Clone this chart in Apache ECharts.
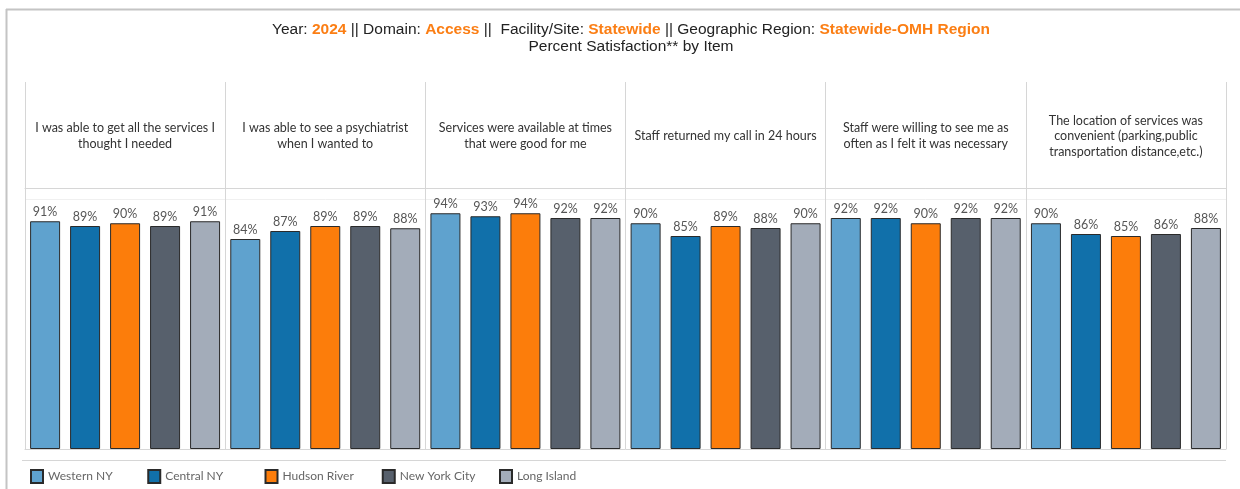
<!DOCTYPE html>
<html>
<head>
<meta charset="utf-8">
<script src="https://cdn.jsdelivr.net/npm/echarts@6/dist/echarts.min.js"></script>
<style>
html,body{margin:0;padding:0;background:#fff;}
#chart{width:1240px;height:489px;}
</style>
</head>
<body>
<div id="chart"></div>
<script>
var categories = [
  'I was able to get all the services I\nthought I needed',
  'I was able to see a psychiatrist\nwhen I wanted to',
  'Services were available at times\nthat were good for me',
  'Staff returned my call in 24 hours',
  'Staff were willing to see me as\noften as I felt it was necessary',
  'The location of services was\nconvenient (parking,public\ntransportation distance,etc.)'
];
var regions = ['Western NY', 'Central NY', 'Hudson River', 'New York City', 'Long Island'];
var westernNY    = [91.1, 84.0, 94.3, 90.3, 92.4, 90.3];
var centralNY    = [89.2, 87.2, 93.1, 85.2, 92.4, 86.0];
var hudsonRiver  = [90.3, 89.2, 94.3, 89.2, 90.3, 85.2];
var newYorkCity  = [89.2, 89.2, 92.4, 88.4, 92.4, 86.0];
var longIsland   = [91.1, 88.3, 92.4, 90.3, 92.4, 88.4];
var seriesValues = [westernNY, centralNY, hudsonRiver, newYorkCity, longIsland];
var colors = ['#5fa2ce', '#1170aa', '#fc7d0b', '#57606c', '#a3acb9'];

var chart = echarts.init(document.getElementById('chart'));
var uiFont = 'Lato';
var lineColor = '#d6d6d6';

var series = regions.map(function (name, i) {
  return {
    name: name,
    type: 'bar',
    xAxisIndex: 1,
    yAxisIndex: 1,
    data: seriesValues[i],
    barWidth: 30,
    barGap: '33.3%',
    itemStyle: { color: colors[i], borderColor: '#2a2a2a', borderWidth: 1 },
    label: {
      show: true,
      position: 'top',
      distance: 3,
      fontFamily: uiFont,
      fontSize: 12.5,
      color: '#555',
      formatter: function (p) { return Math.round(p.value) + '%'; }
    },
    emphasis: { disabled: true },
    animation: false
  };
});

// one legend block per region, laid out at a fixed pitch like the original
var legends = regions.map(function (name, i) {
  return {
    left: 30 + i * 117.25,
    top: 469,
    padding: 0,
    itemWidth: 12,
    itemHeight: 13,
    icon: 'rect',
    data: [name],
    selectedMode: false,
    textStyle: { fontFamily: uiFont, fontSize: 12, color: '#666' }
  };
});

var orange = '#fb7e14';
chart.setOption({
  animation: false,
  title: {
    left: 626,
    top: 15.5,
    textAlign: 'center',
    text: '{n|Year: }{o|2024}{n| || Domain: }{o|Access}{n| ||  Facility/Site: }{o|Statewide}{n| || Geographic Region: }{o|Statewide-OMH Region}',
    textStyle: {
      fontWeight: 'normal',
      fontFamily: 'Liberation Sans',
      fontSize: 15.5,
      rich: {
        n: { fontFamily: 'Liberation Sans', fontSize: 15.5, color: '#222', fontWeight: 'normal', lineHeight: 18 },
        o: { fontFamily: 'Liberation Sans', fontSize: 15.5, color: orange, fontWeight: 'bold', lineHeight: 18 }
      }
    },
    subtext: 'Percent Satisfaction** by Item',
    subtextStyle: { fontFamily: 'Liberation Sans', fontSize: 15.5, color: '#222', lineHeight: 18 },
    itemGap: 1
  },
  legend: legends,
  graphic: [
    { type: 'line', shape: { x1: 6.5, y1: 9, x2: 6.5, y2: 489 }, style: { stroke: '#c4c4c4', lineWidth: 2 } },
    { type: 'line', shape: { x1: 6, y1: 9.5, x2: 1240, y2: 9.5 }, style: { stroke: '#c4c4c4', lineWidth: 2 } },
    { type: 'line', shape: { x1: 22, y1: 460.5, x2: 1226, y2: 460.5 }, style: { stroke: lineColor, lineWidth: 1 } }
  ],
  grid: [
    { left: 25, right: 14, top: 82, height: 106 },
    { left: 25, right: 14, top: 188, bottom: 40 }
  ],
  xAxis: [
    {
      type: 'category', gridIndex: 0, data: categories,
      axisLine: { show: true, lineStyle: { color: lineColor } },
      axisTick: { show: false, interval: 0 },
      splitLine: { show: true, interval: 0, lineStyle: { color: lineColor } },
      axisLabel: {
        inside: true, margin: 52, verticalAlign: 'middle', interval: 0,
        fontFamily: uiFont, fontSize: 12.5, color: '#333', lineHeight: 15.5, align: 'center'
      }
    },
    {
      type: 'category', gridIndex: 1, data: categories,
      axisLine: { show: true, lineStyle: { color: lineColor } },
      axisTick: { show: false, interval: 0 },
      axisLabel: { show: false, interval: 0 },
      splitLine: { show: true, interval: 0, lineStyle: { color: lineColor } }
    }
  ],
  yAxis: [
    { type: 'value', gridIndex: 0, show: false },
    {
      type: 'value', gridIndex: 1, min: 0, max: 104.4, interval: 100,
      axisLine: { show: false }, axisTick: { show: false }, axisLabel: { show: false },
      splitLine: { show: true, lineStyle: { color: '#f0f0f0' } }
    }
  ],
  series: series
});
</script>
</body>
</html>
